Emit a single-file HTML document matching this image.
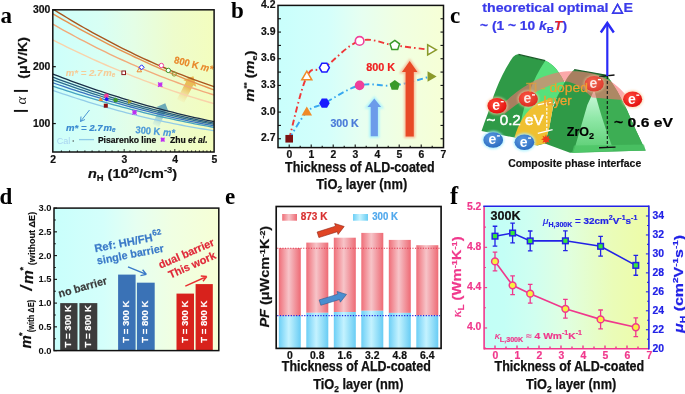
<!DOCTYPE html>
<html><head><meta charset="utf-8"><title>Figure</title>
<style>html,body{margin:0;padding:0;background:#fff;} svg{display:block;will-change:transform;}</style>
</head><body>
<svg width="685" height="394" viewBox="0 0 685 394">
<rect width="685" height="394" fill="#fff"/>
<defs>
<linearGradient id="bg" x1="0" y1="0" x2="1" y2="0">
<stop offset="0" stop-color="#c9fffc"/>
<stop offset="0.3" stop-color="#d4fffb"/>
<stop offset="0.5" stop-color="#e6fff1"/>
<stop offset="0.72" stop-color="#f0ffe2"/>
<stop offset="1" stop-color="#f6ffd6"/>
</linearGradient>
<linearGradient id="bgA" x1="0" y1="0" x2="1" y2="0">
<stop offset="0" stop-color="#cdfffb"/>
<stop offset="0.3" stop-color="#d8fff4"/>
<stop offset="0.5" stop-color="#e4fee6"/>
<stop offset="0.75" stop-color="#eefccc"/>
<stop offset="1" stop-color="#f3fdbe"/>
</linearGradient>
<linearGradient id="bgF" x1="0" y1="0" x2="1" y2="0">
<stop offset="0" stop-color="#c2fff6"/>
<stop offset="0.12" stop-color="#c4fff6"/>
<stop offset="0.3" stop-color="#d0fff0"/>
<stop offset="0.5" stop-color="#e0ffe0"/>
<stop offset="0.78" stop-color="#eafcb8"/>
<stop offset="1" stop-color="#eefca6"/>
</linearGradient>
<linearGradient id="arrO" x1="0" y1="1" x2="1" y2="0">
<stop offset="0" stop-color="#f0c060" stop-opacity="0.2"/>
<stop offset="0.6" stop-color="#e8b050" stop-opacity="0.9"/>
<stop offset="1" stop-color="#e8a850" stop-opacity="0.9"/>
</linearGradient>
<linearGradient id="arrB" x1="0" y1="1" x2="1" y2="0">
<stop offset="0" stop-color="#7ac0d0" stop-opacity="0.2"/>
<stop offset="0.6" stop-color="#5aa0b8" stop-opacity="0.8"/>
<stop offset="1" stop-color="#5aa0b8" stop-opacity="0.9"/>
</linearGradient>
<filter id="glowB" x="-50%" y="-50%" width="200%" height="200%"><feGaussianBlur stdDeviation="1.2"/></filter>
<filter id="blur1" x="-50%" y="-50%" width="200%" height="200%"><feGaussianBlur stdDeviation="0.8"/></filter>
</defs>
<rect x="52.8" y="9.8" width="161.3" height="142.2" fill="url(#bgA)"/>
<clipPath id="clipA"><rect x="52.8" y="9.8" width="161.3" height="142.2"/></clipPath>
<g clip-path="url(#clipA)">
<linearGradient id="gaO" gradientUnits="userSpaceOnUse" x1="180.5" y1="101" x2="193.4" y2="76.2"><stop offset="0" stop-color="#f8d890" stop-opacity="0.15"/><stop offset="0.55" stop-color="#e8b448" stop-opacity="0.855"/><stop offset="1" stop-color="#e8b448" stop-opacity="0.95"/></linearGradient>
<polygon points="184.05,102.85 193.26,85.14 196.27,86.71 193.4,76.2 183.14,79.88 186.16,81.45 176.95,99.15" fill="url(#gaO)"/>
<linearGradient id="gaB" gradientUnits="userSpaceOnUse" x1="155.8" y1="125.5" x2="165.3" y2="103.3"><stop offset="0" stop-color="#a8d8e8" stop-opacity="0.2"/><stop offset="0.55" stop-color="#5a9eb4" stop-opacity="0.81"/><stop offset="1" stop-color="#5a9eb4" stop-opacity="0.9"/></linearGradient>
<polygon points="159.02,126.88 165.84,110.93 168.74,112.17 165.3,103.3 156.51,106.94 159.41,108.17 152.58,124.12" fill="url(#gaB)"/>
<path d="M50,38.56 L54.26,40.72 L58.51,42.87 L62.77,44.98 L67.03,47.07 L71.28,49.14 L75.54,51.18 L79.79,53.19 L84.05,55.18 L88.31,57.14 L92.56,59.08 L96.82,60.99 L101.08,62.88 L105.33,64.74 L109.59,66.58 L113.85,68.39 L118.1,70.17 L122.36,71.93 L126.62,73.66 L130.87,75.37 L135.13,77.05 L139.38,78.71 L143.64,80.34 L147.9,81.95 L152.15,83.53 L156.41,85.08 L160.67,86.61 L164.92,88.11 L169.18,89.59 L173.44,91.05 L177.69,92.47 L181.95,93.87 L186.21,95.25 L190.46,96.6 L194.72,97.93 L198.97,99.22 L203.23,100.5 L207.49,101.75 L211.74,102.97 L216,104.17" fill="none" stroke="#f9d2aa" stroke-width="1.4"/>
<path d="M50,22.54 L54.26,24.98 L58.51,27.39 L62.77,29.78 L67.03,32.13 L71.28,34.45 L75.54,36.75 L79.79,39.01 L84.05,41.24 L88.31,43.44 L92.56,45.62 L96.82,47.76 L101.08,49.87 L105.33,51.96 L109.59,54.01 L113.85,56.03 L118.1,58.03 L122.36,59.99 L126.62,61.92 L130.87,63.83 L135.13,65.7 L139.38,67.54 L143.64,69.35 L147.9,71.14 L152.15,72.89 L156.41,74.61 L160.67,76.31 L164.92,77.97 L169.18,79.6 L173.44,81.2 L177.69,82.78 L181.95,84.32 L186.21,85.83 L190.46,87.32 L194.72,88.77 L198.97,90.19 L203.23,91.58 L207.49,92.95 L211.74,94.28 L216,95.58" fill="none" stroke="#f2aa7a" stroke-width="1.4"/>
<path d="M50,12.1 L54.26,14.61 L58.51,17.08 L62.77,19.53 L67.03,21.96 L71.28,24.36 L75.54,26.73 L79.79,29.08 L84.05,31.4 L88.31,33.7 L92.56,35.97 L96.82,38.21 L101.08,40.43 L105.33,42.62 L109.59,44.79 L113.85,46.93 L118.1,49.05 L122.36,51.14 L126.62,53.2 L130.87,55.24 L135.13,57.25 L139.38,59.24 L143.64,61.2 L147.9,63.13 L152.15,65.04 L156.41,66.93 L160.67,68.78 L164.92,70.61 L169.18,72.42 L173.44,74.2 L177.69,75.95 L181.95,77.68 L186.21,79.38 L190.46,81.06 L194.72,82.71 L198.97,84.34 L203.23,85.94 L207.49,87.51 L211.74,89.06 L216,90.58" fill="none" stroke="#e69250" stroke-width="1.4"/>
<path d="M50,7.27 L54.26,9.94 L58.51,12.58 L62.77,15.19 L67.03,17.76 L71.28,20.3 L75.54,22.81 L79.79,25.29 L84.05,27.74 L88.31,30.15 L92.56,32.53 L96.82,34.88 L101.08,37.19 L105.33,39.47 L109.59,41.72 L113.85,43.94 L118.1,46.12 L122.36,48.27 L126.62,50.39 L130.87,52.48 L135.13,54.53 L139.38,56.55 L143.64,58.54 L147.9,60.5 L152.15,62.42 L156.41,64.31 L160.67,66.17 L164.92,68 L169.18,69.79 L173.44,71.55 L177.69,73.28 L181.95,74.97 L186.21,76.63 L190.46,78.26 L194.72,79.86 L198.97,81.43 L203.23,82.96 L207.49,84.46 L211.74,85.92 L216,87.36" fill="none" stroke="#a9571f" stroke-width="1.4"/>
<path d="M50,89.37 L54.26,90.86 L58.51,92.34 L62.77,93.78 L67.03,95.21 L71.28,96.61 L75.54,98 L79.79,99.36 L84.05,100.69 L88.31,102.01 L92.56,103.3 L96.82,104.57 L101.08,105.81 L105.33,107.04 L109.59,108.24 L113.85,109.42 L118.1,110.58 L122.36,111.71 L126.62,112.83 L130.87,113.91 L135.13,114.98 L139.38,116.03 L143.64,117.05 L147.9,118.05 L152.15,119.03 L156.41,119.98 L160.67,120.92 L164.92,121.83 L169.18,122.71 L173.44,123.58 L177.69,124.42 L181.95,125.24 L186.21,126.04 L190.46,126.82 L194.72,127.57 L198.97,128.3 L203.23,129.01 L207.49,129.69 L211.74,130.36 L216,131" fill="none" stroke="#92cce8" stroke-width="1.3"/>
<path d="M50,85.23 L54.26,86.65 L58.51,88.06 L62.77,89.45 L67.03,90.83 L71.28,92.18 L75.54,93.52 L79.79,94.84 L84.05,96.15 L88.31,97.43 L92.56,98.7 L96.82,99.95 L101.08,101.18 L105.33,102.39 L109.59,103.59 L113.85,104.77 L118.1,105.93 L122.36,107.08 L126.62,108.2 L130.87,109.31 L135.13,110.4 L139.38,111.47 L143.64,112.53 L147.9,113.56 L152.15,114.58 L156.41,115.59 L160.67,116.57 L164.92,117.54 L169.18,118.49 L173.44,119.42 L177.69,120.33 L181.95,121.23 L186.21,122.1 L190.46,122.96 L194.72,123.81 L198.97,124.63 L203.23,125.44 L207.49,126.23 L211.74,127 L216,127.75" fill="none" stroke="#45a2c2" stroke-width="1.3"/>
<path d="M50,81.77 L54.26,83.26 L58.51,84.74 L62.77,86.2 L67.03,87.64 L71.28,89.06 L75.54,90.46 L79.79,91.85 L84.05,93.21 L88.31,94.56 L92.56,95.89 L96.82,97.2 L101.08,98.49 L105.33,99.76 L109.59,101.01 L113.85,102.25 L118.1,103.46 L122.36,104.66 L126.62,105.84 L130.87,107 L135.13,108.14 L139.38,109.26 L143.64,110.36 L147.9,111.45 L152.15,112.51 L156.41,113.56 L160.67,114.59 L164.92,115.6 L169.18,116.59 L173.44,117.57 L177.69,118.52 L181.95,119.45 L186.21,120.37 L190.46,121.27 L194.72,122.15 L198.97,123.01 L203.23,123.85 L207.49,124.68 L211.74,125.48 L216,126.27" fill="none" stroke="#3a72c0" stroke-width="1.3"/>
<path d="M50,78.7 L54.26,80.28 L58.51,81.84 L62.77,83.37 L67.03,84.89 L71.28,86.38 L75.54,87.85 L79.79,89.3 L84.05,90.73 L88.31,92.14 L92.56,93.53 L96.82,94.9 L101.08,96.25 L105.33,97.57 L109.59,98.88 L113.85,100.16 L118.1,101.42 L122.36,102.67 L126.62,103.89 L130.87,105.09 L135.13,106.26 L139.38,107.42 L143.64,108.56 L147.9,109.67 L152.15,110.77 L156.41,111.84 L160.67,112.89 L164.92,113.93 L169.18,114.94 L173.44,115.93 L177.69,116.89 L181.95,117.84 L186.21,118.77 L190.46,119.67 L194.72,120.56 L198.97,121.42 L203.23,122.26 L207.49,123.08 L211.74,123.88 L216,124.66" fill="none" stroke="#2e6e92" stroke-width="1.3"/>
<path d="M50,76.07 L54.26,77.69 L58.51,79.28 L62.77,80.86 L67.03,82.41 L71.28,83.94 L75.54,85.45 L79.79,86.94 L84.05,88.41 L88.31,89.86 L92.56,91.29 L96.82,92.69 L101.08,94.08 L105.33,95.44 L109.59,96.78 L113.85,98.1 L118.1,99.4 L122.36,100.68 L126.62,101.94 L130.87,103.18 L135.13,104.39 L139.38,105.59 L143.64,106.76 L147.9,107.91 L152.15,109.04 L156.41,110.15 L160.67,111.24 L164.92,112.31 L169.18,113.36 L173.44,114.38 L177.69,115.39 L181.95,116.37 L186.21,117.33 L190.46,118.28 L194.72,119.2 L198.97,120.09 L203.23,120.97 L207.49,121.83 L211.74,122.67 L216,123.48" fill="none" stroke="#275a7c" stroke-width="1.3"/>
<path d="M50,72.93 L54.26,74.59 L58.51,76.23 L62.77,77.85 L67.03,79.45 L71.28,81.03 L75.54,82.58 L79.79,84.11 L84.05,85.63 L88.31,87.12 L92.56,88.59 L96.82,90.04 L101.08,91.46 L105.33,92.87 L109.59,94.26 L113.85,95.62 L118.1,96.96 L122.36,98.28 L126.62,99.59 L130.87,100.86 L135.13,102.12 L139.38,103.36 L143.64,104.58 L147.9,105.77 L152.15,106.94 L156.41,108.1 L160.67,109.23 L164.92,110.34 L169.18,111.42 L173.44,112.49 L177.69,113.54 L181.95,114.56 L186.21,115.57 L190.46,116.55 L194.72,117.51 L198.97,118.45 L203.23,119.37 L207.49,120.27 L211.74,121.14 L216,122" fill="none" stroke="#1b2f48" stroke-width="1.3"/>
</g>
<rect x="121.9" y="71" width="3.6" height="3.6" fill="#fff" stroke="#8a1a1a" stroke-width="1"/>
<polygon points="139.3,67.83 141.6,71.81 137,71.81" fill="none" stroke="#f08a30" stroke-width="1"/>
<polygon points="141.6,64.8 144.1,67.3 141.6,69.8 139.1,67.3" fill="#fff" stroke="#1a1aff" stroke-width="1"/>
<circle cx="161.4" cy="65.5" r="2.2" fill="#fff" stroke="#f0409a" stroke-width="1"/>
<circle cx="168.3" cy="70.4" r="2.2" fill="#fff" stroke="#3a9a2a" stroke-width="1"/>
<circle cx="174.2" cy="74" r="2.1" fill="none" stroke="#8a9a3a" stroke-width="1"/>
<path d="M158.04,82.54 L162.36,86.86 M158.04,86.86 L162.36,82.54 M158.1,84.7 L162.3,84.7 M160.2,82.6 L160.2,86.8" stroke="#c030f0" stroke-width="1.2" fill="none"/>
<rect x="158.9" y="83.4" width="2.6" height="2.6" fill="#c030f0"/>
<polygon points="100.7,96.93 103,100.91 98.4,100.91" fill="#f08a30" stroke="none" stroke-width="0"/>
<circle cx="106.4" cy="96" r="2.4" fill="#f0409a" stroke="none" stroke-width="0"/>
<polygon points="106.6,97 108.9,99.3 106.6,101.6 104.3,99.3" fill="#1a1aff" stroke="none" stroke-width="0"/>
<rect x="103.8" y="103.7" width="4" height="4" fill="#8a1010" stroke="none" stroke-width="0"/>
<polygon points="115.6,97.6 118.07,99.4 117.13,102.3 114.07,102.3 113.13,99.4" fill="#3a9a2a" stroke="none" stroke-width="0"/>
<polygon points="132.18,101.7 128.02,99.3 128.02,104.1" fill="#9a9a2a" stroke="none" stroke-width="0"/>
<path d="M132.34,110.24 L136.66,114.56 M132.34,114.56 L136.66,110.24 M132.4,112.4 L136.6,112.4 M134.5,110.3 L134.5,114.5" stroke="#c030f0" stroke-width="1.2" fill="none"/>
<rect x="133.2" y="111.1" width="2.6" height="2.6" fill="#c030f0"/>
<text x="65.8" y="75.8" font-family='"Liberation Sans", sans-serif' font-size="9.8" font-weight="bold" fill="#f6cc98" text-anchor="start" font-style="italic" stroke="#f6cc98" stroke-width="0.1" textLength="49.5" lengthAdjust="spacingAndGlyphs">m* = 2.7<tspan dx="1">m</tspan><tspan font-size="6.5" dy="1.5">e</tspan></text>
<text x="66" y="130.6" font-family='"Liberation Sans", sans-serif' font-size="9.8" font-weight="bold" fill="#3a8ad0" text-anchor="start" font-style="italic" stroke="#3a8ad0" stroke-width="0.2" textLength="49.5" lengthAdjust="spacingAndGlyphs">m* = 2.7<tspan dx="1">m</tspan><tspan font-size="6.5" dy="1.5">e</tspan></text>
<path d="M89.5,110 L80.5,121.5 M80.5,121.5 L81,116.5 M80.5,121.5 L85,119.5" stroke="#3a8ad0" stroke-width="0.9" fill="none"/>
<text x="0" y="0" font-family='"Liberation Sans", sans-serif' font-size="10" font-weight="bold" fill="#e8882a" text-anchor="start" stroke="#e8882a" stroke-width="0.2" transform="translate(173.6,63) rotate(14)" textLength="39.5" lengthAdjust="spacingAndGlyphs">800 K <tspan font-style="italic">m*</tspan></text>
<text x="0" y="0" font-family='"Liberation Sans", sans-serif' font-size="10" font-weight="bold" fill="#4a98d8" text-anchor="start" stroke="#4a98d8" stroke-width="0.2" transform="translate(135.2,133) rotate(5)" textLength="39.5" lengthAdjust="spacingAndGlyphs">300 K <tspan font-style="italic">m*</tspan></text>
<text x="56.7" y="143.7" font-family='"Liberation Sans", sans-serif' font-size="9" font-weight="normal" fill="#a8d4f0" text-anchor="start" >Cal</text>
<line x1="73.2" y1="140" x2="73.2" y2="142" stroke="#333" stroke-width="0.7"/>
<line x1="79" y1="139.6" x2="94" y2="139.6" stroke="#8ecbe8" stroke-width="1.3"/>
<text x="97.9" y="143.3" font-family='"Liberation Sans", sans-serif' font-size="8.6" font-weight="bold" fill="#111" text-anchor="start" stroke="#111" stroke-width="0.2" >Pisarenko line</text>
<path d="M160.83,137.73 L164.57,141.47 M160.83,141.47 L164.57,137.73 M160.88,139.6 L164.52,139.6 M162.7,137.78 L162.7,141.42" stroke="#c030f0" stroke-width="1.2" fill="none"/>
<rect x="161.4" y="138.3" width="2.6" height="2.6" fill="#c030f0"/>
<text x="169.9" y="143.3" font-family='"Liberation Sans", sans-serif' font-size="8.6" font-weight="bold" fill="#111" text-anchor="start" stroke="#111" stroke-width="0.2" >Zhu <tspan font-style="italic">et al.</tspan></text>
<rect x="52.8" y="9.8" width="161.3" height="142.2" fill="none" stroke="#111" stroke-width="1.5"/>
<line x1="52.8" y1="123.56" x2="55.8" y2="123.56" stroke="#111" stroke-width="1.2"/>
<text x="50.3" y="126.56" font-family='"Liberation Sans", sans-serif' font-size="10.4" font-weight="bold" fill="#111" text-anchor="end" stroke="#111" stroke-width="0.2" >100</text>
<line x1="52.8" y1="66.68" x2="55.8" y2="66.68" stroke="#111" stroke-width="1.2"/>
<text x="50.3" y="69.68" font-family='"Liberation Sans", sans-serif' font-size="10.4" font-weight="bold" fill="#111" text-anchor="end" stroke="#111" stroke-width="0.2" >200</text>
<line x1="52.8" y1="9.8" x2="55.8" y2="9.8" stroke="#111" stroke-width="1.2"/>
<text x="50.3" y="12.8" font-family='"Liberation Sans", sans-serif' font-size="10.4" font-weight="bold" fill="#111" text-anchor="end" stroke="#111" stroke-width="0.2" >300</text>
<line x1="61.39" y1="152.0" x2="61.39" y2="150.4" stroke="#111" stroke-width="0.9"/>
<line x1="69.58" y1="152.0" x2="69.58" y2="150.4" stroke="#111" stroke-width="0.9"/>
<line x1="77.4" y1="152.0" x2="77.4" y2="150.4" stroke="#111" stroke-width="0.9"/>
<line x1="84.9" y1="152.0" x2="84.9" y2="150.4" stroke="#111" stroke-width="0.9"/>
<line x1="92.08" y1="152.0" x2="92.08" y2="150.4" stroke="#111" stroke-width="0.9"/>
<line x1="98.99" y1="152.0" x2="98.99" y2="150.4" stroke="#111" stroke-width="0.9"/>
<line x1="105.63" y1="152.0" x2="105.63" y2="150.4" stroke="#111" stroke-width="0.9"/>
<line x1="112.03" y1="152.0" x2="112.03" y2="150.4" stroke="#111" stroke-width="0.9"/>
<line x1="118.21" y1="152.0" x2="118.21" y2="150.4" stroke="#111" stroke-width="0.9"/>
<line x1="124.18" y1="152.0" x2="124.18" y2="149.0" stroke="#111" stroke-width="0.9"/>
<line x1="129.95" y1="152.0" x2="129.95" y2="150.4" stroke="#111" stroke-width="0.9"/>
<line x1="135.54" y1="152.0" x2="135.54" y2="150.4" stroke="#111" stroke-width="0.9"/>
<line x1="140.95" y1="152.0" x2="140.95" y2="150.4" stroke="#111" stroke-width="0.9"/>
<line x1="146.21" y1="152.0" x2="146.21" y2="150.4" stroke="#111" stroke-width="0.9"/>
<line x1="151.31" y1="152.0" x2="151.31" y2="150.4" stroke="#111" stroke-width="0.9"/>
<line x1="156.27" y1="152.0" x2="156.27" y2="150.4" stroke="#111" stroke-width="0.9"/>
<line x1="161.09" y1="152.0" x2="161.09" y2="150.4" stroke="#111" stroke-width="0.9"/>
<line x1="165.79" y1="152.0" x2="165.79" y2="150.4" stroke="#111" stroke-width="0.9"/>
<line x1="170.36" y1="152.0" x2="170.36" y2="150.4" stroke="#111" stroke-width="0.9"/>
<line x1="174.82" y1="152.0" x2="174.82" y2="149.0" stroke="#111" stroke-width="0.9"/>
<line x1="179.17" y1="152.0" x2="179.17" y2="150.4" stroke="#111" stroke-width="0.9"/>
<line x1="183.41" y1="152.0" x2="183.41" y2="150.4" stroke="#111" stroke-width="0.9"/>
<line x1="187.55" y1="152.0" x2="187.55" y2="150.4" stroke="#111" stroke-width="0.9"/>
<line x1="191.6" y1="152.0" x2="191.6" y2="150.4" stroke="#111" stroke-width="0.9"/>
<line x1="195.55" y1="152.0" x2="195.55" y2="150.4" stroke="#111" stroke-width="0.9"/>
<line x1="199.42" y1="152.0" x2="199.42" y2="150.4" stroke="#111" stroke-width="0.9"/>
<line x1="203.21" y1="152.0" x2="203.21" y2="150.4" stroke="#111" stroke-width="0.9"/>
<line x1="206.91" y1="152.0" x2="206.91" y2="150.4" stroke="#111" stroke-width="0.9"/>
<line x1="210.54" y1="152.0" x2="210.54" y2="150.4" stroke="#111" stroke-width="0.9"/>
<text x="53.1" y="162.6" font-family='"Liberation Sans", sans-serif' font-size="10.4" font-weight="bold" fill="#111" text-anchor="middle" stroke="#111" stroke-width="0.2" >2</text>
<text x="124.48" y="162.6" font-family='"Liberation Sans", sans-serif' font-size="10.4" font-weight="bold" fill="#111" text-anchor="middle" stroke="#111" stroke-width="0.2" >3</text>
<text x="175.12" y="162.6" font-family='"Liberation Sans", sans-serif' font-size="10.4" font-weight="bold" fill="#111" text-anchor="middle" stroke="#111" stroke-width="0.2" >4</text>
<text x="214.4" y="162.6" font-family='"Liberation Sans", sans-serif' font-size="10.4" font-weight="bold" fill="#111" text-anchor="middle" stroke="#111" stroke-width="0.2" >5</text>
<text x="87.9" y="178.4" font-family='"Liberation Sans", sans-serif' font-size="13" font-weight="bold" fill="#111" text-anchor="start" stroke="#111" stroke-width="0.2" textLength="89.3" lengthAdjust="spacingAndGlyphs"><tspan font-style="italic">n</tspan><tspan font-size="8.5" dy="3">H</tspan><tspan dy="-3">  (10</tspan><tspan font-size="8.5" dy="-5">20</tspan><tspan dy="5">/cm</tspan><tspan font-size="8.5" dy="-5">-3</tspan><tspan dy="5">)</tspan></text>
<text x="0" y="0" font-family='"Liberation Sans", sans-serif' font-size="12.6" font-weight="bold" fill="#111" text-anchor="start" stroke="#111" stroke-width="0.2" transform="translate(26.6,78.7) rotate(-90)" textLength="41.8" lengthAdjust="spacingAndGlyphs">(μV/K)</text>
<line x1="13.9" y1="110.9" x2="27.9" y2="110.9" stroke="#111" stroke-width="1.9"/>
<line x1="13.9" y1="90.9" x2="27.9" y2="90.9" stroke="#111" stroke-width="1.9"/>
<text x="0" y="0" font-family='"Liberation Serif", serif' font-size="15" font-weight="normal" fill="#111" text-anchor="start" font-style="italic" transform="translate(25.8,104.6) rotate(-90)">α</text>
<text x="0.4" y="23" font-family='"Liberation Serif", serif' font-size="23" font-weight="bold" fill="#000" text-anchor="start" >a</text>
<rect x="278.0" y="5.4" width="165.5" height="142.2" fill="url(#bg)"/>
<path d="M289.2,138.75 C292.37,127.55 300.46,89.32 306.8,76.52 C313.14,63.72 314.9,74.03 324.4,67.63 C333.9,61.23 346.93,44.96 359.6,40.96 C372.27,36.96 382.13,43.8 394.8,45.41 C407.47,47.01 423.66,49.05 430,49.85" fill="none" stroke="#f03838" stroke-width="1.9" stroke-dasharray="6,3,1.6,3"/>
<path d="M289.2,138.75 C292.37,133.95 300.46,118.48 306.8,112.08 C313.14,105.68 314.9,107.99 324.4,103.19 C333.9,98.39 346.93,88.61 359.6,85.41 C372.27,82.21 382.13,87.01 394.8,85.41 C407.47,83.81 423.66,78.12 430,76.52" fill="none" stroke="#38a8f0" stroke-width="1.9" stroke-dasharray="6,3,1.6,3"/>
<path d="M370.7,136.3 L370.7,107 L367.5,107 L374.3,98.5 L381.1,107 L377.9,107 L377.9,136.3 Z" fill="#a0f0ff" stroke="#a0f0ff" stroke-width="3" filter="url(#glowB)" opacity="0.8"/>
<path d="M370.7,136.3 L370.7,107 L367.5,107 L374.3,98.5 L381.1,107 L377.9,107 L377.9,136.3 Z" fill="#6c9cea"/>
<path d="M405.6,136.6 L405.6,72 L401.95,72 L409.7,61 L417.45,72 L413.8,72 L413.8,136.6 Z" fill="#f8b090" stroke="#f8b090" stroke-width="3" filter="url(#glowB)" opacity="0.8"/>
<path d="M405.6,136.6 L405.6,72 L401.95,72 L409.7,61 L417.45,72 L413.8,72 L413.8,136.6 Z" fill="#e84a26"/>
<rect x="285.4" y="134.95" width="7.6" height="7.6" fill="#7a1212" stroke="none" stroke-width="0"/>
<polygon points="306.8,71.15 311.8,79.81 301.8,79.81" fill="#fff" stroke="#f08a28" stroke-width="1.5"/>
<polygon points="329.4,67.63 326.9,71.96 321.9,71.96 319.4,67.63 321.9,63.3 326.9,63.3" fill="#fff" stroke="#1a1aff" stroke-width="1.5"/>
<circle cx="359.6" cy="40.96" r="4.3" fill="#fff" stroke="#f0409a" stroke-width="1.6"/>
<polygon points="394.8,40.41 399.56,43.86 397.74,49.45 391.86,49.45 390.04,43.86" fill="#fff" stroke="#3a9a2a" stroke-width="1.5"/>
<polygon points="436.37,49.85 427.71,44.85 427.71,54.85" fill="#fff" stroke="#8a9a2a" stroke-width="1.6"/>
<polygon points="306.8,106.44 312.05,115.54 301.55,115.54" fill="#f08a28" stroke="none" stroke-width="0"/>
<polygon points="329.7,103.19 327.05,107.78 321.75,107.78 319.1,103.19 321.75,98.6 327.05,98.6" fill="#1a1aff" stroke="none" stroke-width="0"/>
<circle cx="359.6" cy="85.41" r="4.8" fill="#f0409a" stroke="none" stroke-width="0"/>
<polygon points="394.8,80.01 399.94,83.74 397.97,89.78 391.63,89.78 389.66,83.74" fill="#3a9a2a" stroke="none" stroke-width="0"/>
<polygon points="436.64,76.52 427.54,71.27 427.54,81.77" fill="#8a9a2a" stroke="none" stroke-width="0"/>
<text x="366.3" y="70.9" font-family='"Liberation Sans", sans-serif' font-size="11.2" font-weight="bold" fill="#f02020" text-anchor="start" stroke="#f02020" stroke-width="0.2" textLength="28.9" lengthAdjust="spacingAndGlyphs">800 K</text>
<text x="330.4" y="127.2" font-family='"Liberation Sans", sans-serif' font-size="11.2" font-weight="bold" fill="#4a7ad8" text-anchor="start" stroke="#4a7ad8" stroke-width="0.2" textLength="28.4" lengthAdjust="spacingAndGlyphs">300 K</text>
<rect x="278.0" y="5.4" width="165.5" height="142.2" fill="none" stroke="#111" stroke-width="1.5"/>
<line x1="278.0" y1="138.75" x2="281.0" y2="138.75" stroke="#111" stroke-width="1.1"/>
<line x1="443.5" y1="138.75" x2="440.5" y2="138.75" stroke="#111" stroke-width="1.1"/>
<line x1="278.0" y1="125.42" x2="281.0" y2="125.42" stroke="#111" stroke-width="1.1"/>
<line x1="443.5" y1="125.42" x2="440.5" y2="125.42" stroke="#111" stroke-width="1.1"/>
<line x1="278.0" y1="112.08" x2="281.0" y2="112.08" stroke="#111" stroke-width="1.1"/>
<line x1="443.5" y1="112.08" x2="440.5" y2="112.08" stroke="#111" stroke-width="1.1"/>
<line x1="278.0" y1="98.74" x2="281.0" y2="98.74" stroke="#111" stroke-width="1.1"/>
<line x1="443.5" y1="98.74" x2="440.5" y2="98.74" stroke="#111" stroke-width="1.1"/>
<line x1="278.0" y1="85.41" x2="281.0" y2="85.41" stroke="#111" stroke-width="1.1"/>
<line x1="443.5" y1="85.41" x2="440.5" y2="85.41" stroke="#111" stroke-width="1.1"/>
<line x1="278.0" y1="72.08" x2="281.0" y2="72.08" stroke="#111" stroke-width="1.1"/>
<line x1="443.5" y1="72.08" x2="440.5" y2="72.08" stroke="#111" stroke-width="1.1"/>
<line x1="278.0" y1="58.74" x2="281.0" y2="58.74" stroke="#111" stroke-width="1.1"/>
<line x1="443.5" y1="58.74" x2="440.5" y2="58.74" stroke="#111" stroke-width="1.1"/>
<line x1="278.0" y1="45.41" x2="281.0" y2="45.41" stroke="#111" stroke-width="1.1"/>
<line x1="443.5" y1="45.41" x2="440.5" y2="45.41" stroke="#111" stroke-width="1.1"/>
<line x1="278.0" y1="32.07" x2="281.0" y2="32.07" stroke="#111" stroke-width="1.1"/>
<line x1="443.5" y1="32.07" x2="440.5" y2="32.07" stroke="#111" stroke-width="1.1"/>
<line x1="278.0" y1="18.74" x2="281.0" y2="18.74" stroke="#111" stroke-width="1.1"/>
<line x1="443.5" y1="18.74" x2="440.5" y2="18.74" stroke="#111" stroke-width="1.1"/>
<text x="275.5" y="141.25" font-family='"Liberation Sans", sans-serif' font-size="10.4" font-weight="bold" fill="#111" text-anchor="end" stroke="#111" stroke-width="0.2" >2.7</text>
<text x="275.5" y="114.58" font-family='"Liberation Sans", sans-serif' font-size="10.4" font-weight="bold" fill="#111" text-anchor="end" stroke="#111" stroke-width="0.2" >3.0</text>
<text x="275.5" y="87.91" font-family='"Liberation Sans", sans-serif' font-size="10.4" font-weight="bold" fill="#111" text-anchor="end" stroke="#111" stroke-width="0.2" >3.3</text>
<text x="275.5" y="61.24" font-family='"Liberation Sans", sans-serif' font-size="10.4" font-weight="bold" fill="#111" text-anchor="end" stroke="#111" stroke-width="0.2" >3.6</text>
<text x="275.5" y="34.57" font-family='"Liberation Sans", sans-serif' font-size="10.4" font-weight="bold" fill="#111" text-anchor="end" stroke="#111" stroke-width="0.2" >3.9</text>
<text x="275.5" y="7.9" font-family='"Liberation Sans", sans-serif' font-size="10.4" font-weight="bold" fill="#111" text-anchor="end" stroke="#111" stroke-width="0.2" >4.2</text>
<line x1="289.2" y1="147.6" x2="289.2" y2="144.6" stroke="#111" stroke-width="1.1"/>
<line x1="300.2" y1="147.6" x2="300.2" y2="145.79999999999998" stroke="#111" stroke-width="1.1"/>
<line x1="311.2" y1="147.6" x2="311.2" y2="144.6" stroke="#111" stroke-width="1.1"/>
<line x1="322.2" y1="147.6" x2="322.2" y2="145.79999999999998" stroke="#111" stroke-width="1.1"/>
<line x1="333.2" y1="147.6" x2="333.2" y2="144.6" stroke="#111" stroke-width="1.1"/>
<line x1="344.2" y1="147.6" x2="344.2" y2="145.79999999999998" stroke="#111" stroke-width="1.1"/>
<line x1="355.2" y1="147.6" x2="355.2" y2="144.6" stroke="#111" stroke-width="1.1"/>
<line x1="366.2" y1="147.6" x2="366.2" y2="145.79999999999998" stroke="#111" stroke-width="1.1"/>
<line x1="377.2" y1="147.6" x2="377.2" y2="144.6" stroke="#111" stroke-width="1.1"/>
<line x1="388.2" y1="147.6" x2="388.2" y2="145.79999999999998" stroke="#111" stroke-width="1.1"/>
<line x1="399.2" y1="147.6" x2="399.2" y2="144.6" stroke="#111" stroke-width="1.1"/>
<line x1="410.2" y1="147.6" x2="410.2" y2="145.79999999999998" stroke="#111" stroke-width="1.1"/>
<line x1="421.2" y1="147.6" x2="421.2" y2="144.6" stroke="#111" stroke-width="1.1"/>
<line x1="432.2" y1="147.6" x2="432.2" y2="145.79999999999998" stroke="#111" stroke-width="1.1"/>
<text x="289.4" y="157.7" font-family='"Liberation Sans", sans-serif' font-size="10.4" font-weight="bold" fill="#111" text-anchor="middle" stroke="#111" stroke-width="0.2" >0</text>
<text x="311.4" y="157.7" font-family='"Liberation Sans", sans-serif' font-size="10.4" font-weight="bold" fill="#111" text-anchor="middle" stroke="#111" stroke-width="0.2" >1</text>
<text x="333.4" y="157.7" font-family='"Liberation Sans", sans-serif' font-size="10.4" font-weight="bold" fill="#111" text-anchor="middle" stroke="#111" stroke-width="0.2" >2</text>
<text x="355.4" y="157.7" font-family='"Liberation Sans", sans-serif' font-size="10.4" font-weight="bold" fill="#111" text-anchor="middle" stroke="#111" stroke-width="0.2" >3</text>
<text x="377.4" y="157.7" font-family='"Liberation Sans", sans-serif' font-size="10.4" font-weight="bold" fill="#111" text-anchor="middle" stroke="#111" stroke-width="0.2" >4</text>
<text x="399.4" y="157.7" font-family='"Liberation Sans", sans-serif' font-size="10.4" font-weight="bold" fill="#111" text-anchor="middle" stroke="#111" stroke-width="0.2" >5</text>
<text x="421.4" y="157.7" font-family='"Liberation Sans", sans-serif' font-size="10.4" font-weight="bold" fill="#111" text-anchor="middle" stroke="#111" stroke-width="0.2" >6</text>
<text x="443.4" y="157.7" font-family='"Liberation Sans", sans-serif' font-size="10.4" font-weight="bold" fill="#111" text-anchor="middle" stroke="#111" stroke-width="0.2" >7</text>
<text x="285.1" y="171.6" font-family='"Liberation Sans", sans-serif' font-size="13.8" font-weight="bold" fill="#111" text-anchor="start" textLength="149.5" lengthAdjust="spacingAndGlyphs" stroke="#111" stroke-width="0.25">Thickness of ALD-coated</text>
<text x="316.2" y="189.1" font-family='"Liberation Sans", sans-serif' font-size="13.8" font-weight="bold" fill="#111" text-anchor="start" textLength="91" lengthAdjust="spacingAndGlyphs" stroke="#111" stroke-width="0.25">TiO<tspan font-size="9" dy="3">2</tspan><tspan dy="-3"> layer (nm)</tspan></text>
<text x="0" y="0" font-family='"Liberation Sans", sans-serif' font-size="13" font-weight="bold" fill="#111" text-anchor="start" stroke="#111" stroke-width="0.2" transform="translate(253.8,101.5) rotate(-90)" textLength="51" lengthAdjust="spacingAndGlyphs"><tspan font-style="italic">m</tspan><tspan font-size="7" dy="-4.5">**</tspan><tspan dy="4.5"> (</tspan><tspan font-style="italic">m</tspan><tspan font-size="8" dy="3">e</tspan><tspan dy="-3">)</tspan></text>
<text x="231" y="18.1" font-family='"Liberation Serif", serif' font-size="23" font-weight="bold" fill="#000" text-anchor="start" >b</text>
<defs>
<radialGradient id="eR" cx="0.4" cy="0.35" r="0.7"><stop offset="0" stop-color="#ff4a3a"/><stop offset="1" stop-color="#e20c0c"/></radialGradient>
<radialGradient id="eB" cx="0.4" cy="0.35" r="0.7"><stop offset="0" stop-color="#5a9ae0"/><stop offset="1" stop-color="#2a6ac0"/></radialGradient>
<linearGradient id="hl" x1="0" y1="0" x2="0" y2="1"><stop offset="0" stop-color="#d0fae0"/><stop offset="0.45" stop-color="#90e8a8"/><stop offset="1" stop-color="#58cc70"/></linearGradient>
</defs>
<path d="M481.5,131 C484,124 486,118 488,113 C492,100 500,75 513,57 Q516,54 518.4,54.4 L545.2,60.7 C553,63.5 560,72 565.8,85 L557,97 L553,104 L544.9,143.6 L537.4,145.5 L514.5,137.6 Z" fill="#2f9a47"/>
<path d="M545.2,60.7 C553,63.5 560,72 565.8,85 L557,97 L553,104 L540,112 L521,122 C524,105 532,80 545.2,60.7 Z" fill="#57e07b"/>
<path d="M574.2,69.8 L606.8,75.3 C614,85 621,97 627,110 C633,124 640,139 645.6,150.6 L570,152.8 L544.9,143.6 L549.3,127.6 L552.8,108 L557,97 L562.7,86.5 C566,79 570,73 574.2,69.8 Z" fill="#2f9a47"/>
<path d="M606.8,75.3 C614,85 621,97 627,110 C633,124 640,139 645.6,150.6 L606,150 L594.2,90.1 C598,84 603,79 606.8,75.3 Z" fill="#3dae54"/>
<path d="M594.2,90.1 C598,105 604,125 612,146 L613,150.5 L573.4,152.4 L587.3,105 Z" fill="url(#hl)"/>
<path d="M574,145.5 L644,144.5 L645.6,150.6 L572,153 Z" fill="#4cc466" opacity="0.75"/>
<path d="M514.5,137.6 C518,124 526,110 538,103 C543,100.5 547,99.5 551,99.2 L552.8,108 L549.3,127.6 L544.9,143.6 L536,145.4 Z" fill="#f0c030"/>
<path d="M518.4,54.4 L545.2,60.7" stroke="#1c5c2a" stroke-width="1.3"/>
<path d="M574.2,69.6 L606.8,75.3" stroke="#1c5c2a" stroke-width="1.3"/>
<path d="M500,106.5 C515,92 538,74 565,71.5 C590,70 610,76 626,95 L622.5,100 L592,97.5 C582,88 574,81.5 564.8,81.5 C545,84 525,98 504,114 Z" fill="#f86e70" fill-opacity="0.6"/>
<line x1="607.3" y1="76" x2="607.3" y2="148" stroke="#111" stroke-width="1.1" stroke-dasharray="3,2"/>
<line x1="599" y1="76.6" x2="614.5" y2="75" stroke="#111" stroke-width="1.4"/>
<line x1="599" y1="147.8" x2="615.5" y2="147.1" stroke="#111" stroke-width="1.4"/>
<line x1="607.3" y1="24" x2="607.3" y2="76" stroke="#2a2af6" stroke-width="2.2"/>
<path d="M600.8,32.5 L607.3,23 L613.8,32.5" fill="none" stroke="#2a2af6" stroke-width="2.4" stroke-linejoin="miter"/>
<line x1="546.8" y1="104" x2="546.8" y2="131" stroke="#fff" stroke-width="1.2" stroke-dasharray="2.5,1.5"/>
<line x1="537.8" y1="104.9" x2="552" y2="102" stroke="#fff" stroke-width="1.2"/>
<line x1="537.8" y1="133.3" x2="552.6" y2="129.7" stroke="#fff" stroke-width="1.2"/>
<polygon points="551,139.3 548.4,140.29 549.54,142.84 546.99,141.7 546,144.3 545.01,141.7 542.46,142.84 543.6,140.29 541,139.3 543.6,138.31 542.46,135.76 545.01,136.9 546,134.3 546.99,136.9 549.54,135.76 548.4,138.31" fill="#f03a1a" stroke="none" stroke-width="0"/>
<ellipse cx="497" cy="105.8" rx="10.8" ry="9" fill="#f8d0a0" opacity="0.7" filter="url(#blur1)"/>
<ellipse cx="497" cy="105.8" rx="9.6" ry="7.8" fill="url(#eR)" opacity="1.0"/>
<text x="496.2" y="110.2" font-family='"Liberation Sans", sans-serif' font-size="14" font-weight="bold" fill="#fff" text-anchor="middle" opacity="1.0">e</text>
<rect x="500.7" y="101.0" width="3" height="1.4" fill="#fff"/>
<ellipse cx="528.3" cy="99" rx="10.8" ry="9" fill="#f8d0a0" opacity="0.602" filter="url(#blur1)"/>
<ellipse cx="528.3" cy="99" rx="9.6" ry="7.8" fill="url(#eR)" opacity="0.86"/>
<text x="527.5" y="103.4" font-family='"Liberation Sans", sans-serif' font-size="14" font-weight="bold" fill="#fff" text-anchor="middle" opacity="0.86">e</text>
<rect x="532.0" y="94.2" width="3" height="1.4" fill="#fff"/>
<ellipse cx="594.2" cy="83.7" rx="10.8" ry="9" fill="#f8d0a0" opacity="0.504" filter="url(#blur1)"/>
<ellipse cx="594.2" cy="83.7" rx="9.6" ry="7.8" fill="url(#eR)" opacity="0.72"/>
<text x="593.4000000000001" y="88.10000000000001" font-family='"Liberation Sans", sans-serif' font-size="14" font-weight="bold" fill="#fff" text-anchor="middle" opacity="0.85">e</text>
<rect x="597.9000000000001" y="78.9" width="3" height="1.4" fill="#fff"/>
<ellipse cx="632.6" cy="99.3" rx="10.8" ry="9" fill="#f8d0a0" opacity="0.7" filter="url(#blur1)"/>
<ellipse cx="632.6" cy="99.3" rx="9.6" ry="7.8" fill="url(#eR)" opacity="1.0"/>
<text x="631.8000000000001" y="103.7" font-family='"Liberation Sans", sans-serif' font-size="14" font-weight="bold" fill="#fff" text-anchor="middle" opacity="1.0">e</text>
<rect x="636.3000000000001" y="94.5" width="3" height="1.4" fill="#fff"/>
<ellipse cx="493.2" cy="140" rx="11" ry="9.2" fill="#a8f0ff" opacity="0.8" filter="url(#blur1)"/>
<ellipse cx="493.2" cy="140" rx="9.9" ry="7.7" fill="url(#eB)"/>
<text x="492.4" y="144.4" font-family='"Liberation Sans", sans-serif' font-size="14" font-weight="bold" fill="#fff" text-anchor="middle" opacity="1.0">e</text>
<rect x="496.9" y="135.2" width="3" height="1.4" fill="#fff"/>
<ellipse cx="524.4" cy="142.2" rx="11" ry="9.2" fill="#a8f0ff" opacity="0.8" filter="url(#blur1)"/>
<ellipse cx="524.4" cy="142.2" rx="9.9" ry="7.7" fill="url(#eB)"/>
<text x="523.6" y="146.6" font-family='"Liberation Sans", sans-serif' font-size="14" font-weight="bold" fill="#fff" text-anchor="middle" opacity="1.0">e</text>
<rect x="528.1" y="137.39999999999998" width="3" height="1.4" fill="#fff"/>
<text x="526" y="91.5" font-family='"Liberation Sans", sans-serif' font-size="13" font-weight="normal" fill="#f0a030" text-anchor="start" textLength="62" lengthAdjust="spacingAndGlyphs" stroke="#f0a030" stroke-width="0.35" stroke-opacity="0.6"><tspan fill-opacity="0.55">Ti - </tspan>doped</text>
<text x="543.6" y="104.8" font-family='"Liberation Sans", sans-serif' font-size="13" font-weight="normal" fill="#f0a030" text-anchor="start" textLength="28" lengthAdjust="spacingAndGlyphs" stroke="#f0a030" stroke-width="0.35">layer</text>
<text x="486.6" y="124.5" font-family='"Liberation Sans", sans-serif' font-size="14.5" font-weight="normal" fill="#fff" text-anchor="start" textLength="57" lengthAdjust="spacingAndGlyphs" stroke="#fff" stroke-width="0.5">~ 0.2 eV</text>
<text x="566.8" y="136" font-family='"Liberation Sans", sans-serif' font-size="12.5" font-weight="bold" fill="#000" text-anchor="start" stroke="#000" stroke-width="0.2" >ZrO<tspan font-size="9" dy="3">2</tspan></text>
<text x="614" y="126.8" font-family='"Liberation Sans", sans-serif' font-size="13.5" font-weight="bold" fill="#000" text-anchor="start" stroke="#000" stroke-width="0.2" textLength="59" lengthAdjust="spacingAndGlyphs">~ 0.6 eV</text>
<text x="508.2" y="166.9" font-family='"Liberation Sans", sans-serif' font-size="10.8" font-weight="bold" fill="#111" text-anchor="start" stroke="#111" stroke-width="0.2" textLength="133" lengthAdjust="spacingAndGlyphs">Composite phase interface</text>
<text x="482.3" y="12.1" font-family='"Liberation Sans", sans-serif' font-size="12.8" font-weight="bold" fill="#3a3aea" text-anchor="start" stroke="#3a3aea" stroke-width="0.2" textLength="150.7" lengthAdjust="spacingAndGlyphs">theoretical optimal △E</text>
<text x="480" y="30.4" font-family='"Liberation Sans", sans-serif' font-size="12.3" font-weight="bold" fill="#3a3aea" text-anchor="start" stroke="#3a3aea" stroke-width="0.2" textLength="87" lengthAdjust="spacingAndGlyphs">~ (1 ~ 10 <tspan font-style="italic">k</tspan><tspan font-size="9" dy="2.5">B</tspan><tspan dy="-2.5" font-style="italic" fill="#f02020">T</tspan>)</text>
<text x="449.9" y="22.9" font-family='"Liberation Serif", serif' font-size="23" font-weight="bold" fill="#000" text-anchor="start" >c</text>
<rect x="54.0" y="208.1" width="164.8" height="142.50000000000003" fill="url(#bg)"/>
<rect x="60.2" y="303.1" width="17.3" height="47.5" fill="#3c3c3c"/>
<text x="0" y="0" font-family='"Liberation Sans", sans-serif' font-size="9.8" font-weight="bold" fill="#fff" text-anchor="start" stroke="#fff" stroke-width="0.2" transform="translate(71.45,347.4) rotate(-90)" textLength="42.2" lengthAdjust="spacingAndGlyphs">T = 300 K</text>
<rect x="79.4" y="303.1" width="17.9" height="47.5" fill="#3c3c3c"/>
<text x="0" y="0" font-family='"Liberation Sans", sans-serif' font-size="9.8" font-weight="bold" fill="#fff" text-anchor="start" stroke="#fff" stroke-width="0.2" transform="translate(90.95,347.4) rotate(-90)" textLength="42.2" lengthAdjust="spacingAndGlyphs">T = 800 K</text>
<rect x="118.1" y="274.6" width="17.5" height="76" fill="#3a72b6"/>
<text x="0" y="0" font-family='"Liberation Sans", sans-serif' font-size="9.8" font-weight="bold" fill="#fff" text-anchor="start" stroke="#fff" stroke-width="0.2" transform="translate(129.45,342.8) rotate(-90)" textLength="42.2" lengthAdjust="spacingAndGlyphs">T = 300 K</text>
<rect x="136.9" y="282.68" width="17.8" height="67.93" fill="#3a72b6"/>
<text x="0" y="0" font-family='"Liberation Sans", sans-serif' font-size="9.8" font-weight="bold" fill="#fff" text-anchor="start" stroke="#fff" stroke-width="0.2" transform="translate(148.4,342.8) rotate(-90)" textLength="42.2" lengthAdjust="spacingAndGlyphs">T = 800 K</text>
<rect x="176.5" y="293.6" width="17.5" height="57" fill="#d8221c"/>
<text x="0" y="0" font-family='"Liberation Sans", sans-serif' font-size="9.8" font-weight="bold" fill="#fff" text-anchor="start" stroke="#fff" stroke-width="0.2" transform="translate(187.85,342.8) rotate(-90)" textLength="42.2" lengthAdjust="spacingAndGlyphs">T = 300 K</text>
<rect x="195.6" y="284.1" width="17.2" height="66.5" fill="#d8221c"/>
<text x="0" y="0" font-family='"Liberation Sans", sans-serif' font-size="9.8" font-weight="bold" fill="#fff" text-anchor="start" stroke="#fff" stroke-width="0.2" transform="translate(206.8,342.8) rotate(-90)" textLength="42.2" lengthAdjust="spacingAndGlyphs">T = 800 K</text>
<text x="0" y="0" font-family='"Liberation Sans", sans-serif' font-size="11" font-weight="bold" fill="#3a3a3a" text-anchor="start" stroke="#3a3a3a" stroke-width="0.2" transform="translate(59.6,297.6) rotate(-16)" textLength="50" lengthAdjust="spacingAndGlyphs">no barrier</text>
<text x="0" y="0" font-family='"Liberation Sans", sans-serif' font-size="11" font-weight="bold" fill="#3a7ac8" text-anchor="start" stroke="#3a7ac8" stroke-width="0.2" transform="translate(95.2,252.2) rotate(-11)" textLength="59" lengthAdjust="spacingAndGlyphs">Ref: HH/FH</text>
<text x="0" y="0" font-family='"Liberation Sans", sans-serif' font-size="8" font-weight="bold" fill="#3a7ac8" text-anchor="start" stroke="#3a7ac8" stroke-width="0.2" transform="translate(152.8,235.8) rotate(-11)">62</text>
<text x="0" y="0" font-family='"Liberation Sans", sans-serif' font-size="11" font-weight="bold" fill="#3a7ac8" text-anchor="start" stroke="#3a7ac8" stroke-width="0.2" transform="translate(97.6,264.6) rotate(-11)" textLength="68" lengthAdjust="spacingAndGlyphs">single barrier</text>
<text x="0" y="0" font-family='"Liberation Sans", sans-serif' font-size="11" font-weight="bold" fill="#e02838" text-anchor="start" stroke="#e02838" stroke-width="0.2" transform="translate(160.5,268.8) rotate(-23.5)" textLength="59.5" lengthAdjust="spacingAndGlyphs">dual barrier</text>
<text x="0" y="0" font-family='"Liberation Sans", sans-serif' font-size="11" font-weight="bold" fill="#e02838" text-anchor="start" stroke="#e02838" stroke-width="0.2" transform="translate(170.5,278.7) rotate(-24)" textLength="50.5" lengthAdjust="spacingAndGlyphs">This work</text>
<path d="M128,266.8 L146.4,274.4 M146.4,274.4 L140.5,275.6 M146.4,274.4 L142.6,269.8" stroke="#3a7ac8" stroke-width="1.4" fill="none"/>
<path d="M185.3,286.2 L206.8,276.5 M206.8,276.5 L203,281.2 M206.8,276.5 L200.8,276" stroke="#e83030" stroke-width="1.4" fill="none"/>
<rect x="54.0" y="208.1" width="164.8" height="142.50000000000003" fill="none" stroke="#111" stroke-width="1.5"/>
<line x1="54.0" y1="350.6" x2="57.0" y2="350.6" stroke="#111" stroke-width="1.1"/>
<line x1="54.0" y1="338.73" x2="55.8" y2="338.73" stroke="#111" stroke-width="1.1"/>
<line x1="54.0" y1="326.85" x2="57.0" y2="326.85" stroke="#111" stroke-width="1.1"/>
<line x1="54.0" y1="314.98" x2="55.8" y2="314.98" stroke="#111" stroke-width="1.1"/>
<line x1="54.0" y1="303.1" x2="57.0" y2="303.1" stroke="#111" stroke-width="1.1"/>
<line x1="54.0" y1="291.23" x2="55.8" y2="291.23" stroke="#111" stroke-width="1.1"/>
<line x1="54.0" y1="279.35" x2="57.0" y2="279.35" stroke="#111" stroke-width="1.1"/>
<line x1="54.0" y1="267.48" x2="55.8" y2="267.48" stroke="#111" stroke-width="1.1"/>
<line x1="54.0" y1="255.6" x2="57.0" y2="255.6" stroke="#111" stroke-width="1.1"/>
<line x1="54.0" y1="243.73" x2="55.8" y2="243.73" stroke="#111" stroke-width="1.1"/>
<line x1="54.0" y1="231.85" x2="57.0" y2="231.85" stroke="#111" stroke-width="1.1"/>
<line x1="54.0" y1="219.97" x2="55.8" y2="219.97" stroke="#111" stroke-width="1.1"/>
<line x1="54.0" y1="208.1" x2="57.0" y2="208.1" stroke="#111" stroke-width="1.1"/>
<text x="51.6" y="353.5" font-family='"Liberation Sans", sans-serif' font-size="9.4" font-weight="bold" fill="#111" text-anchor="end" >0.0</text>
<text x="51.6" y="329.75" font-family='"Liberation Sans", sans-serif' font-size="9.4" font-weight="bold" fill="#111" text-anchor="end" >0.5</text>
<text x="51.6" y="306" font-family='"Liberation Sans", sans-serif' font-size="9.4" font-weight="bold" fill="#111" text-anchor="end" >1.0</text>
<text x="51.6" y="282.25" font-family='"Liberation Sans", sans-serif' font-size="9.4" font-weight="bold" fill="#111" text-anchor="end" >1.5</text>
<text x="51.6" y="258.5" font-family='"Liberation Sans", sans-serif' font-size="9.4" font-weight="bold" fill="#111" text-anchor="end" >2.0</text>
<text x="51.6" y="234.75" font-family='"Liberation Sans", sans-serif' font-size="9.4" font-weight="bold" fill="#111" text-anchor="end" >2.5</text>
<text x="51.6" y="211" font-family='"Liberation Sans", sans-serif' font-size="9.4" font-weight="bold" fill="#111" text-anchor="end" >3.0</text>
<text x="0" y="0" font-family='"Liberation Sans", sans-serif' font-size="15" font-weight="bold" fill="#111" text-anchor="start" font-style="italic" stroke="#111" stroke-width="0.2" transform="translate(31,348.5) rotate(-90)" textLength="13.3" lengthAdjust="spacingAndGlyphs">m</text>
<text x="0" y="0" font-family='"Liberation Sans", sans-serif' font-size="9" font-weight="bold" fill="#111" text-anchor="start" stroke="#111" stroke-width="0.2" transform="translate(24.5,336) rotate(-90)">*</text>
<text x="0" y="0" font-family='"Liberation Sans", sans-serif' font-size="8.4" font-weight="bold" fill="#111" text-anchor="start" stroke="#111" stroke-width="0.12" transform="translate(34.3,332.2) rotate(-90)" textLength="32.4" lengthAdjust="spacingAndGlyphs">(with ΔE)</text>
<text x="0" y="0" font-family='"Liberation Sans", sans-serif' font-size="17" font-weight="bold" fill="#111" text-anchor="start" font-style="italic" stroke="#111" stroke-width="0.2" transform="translate(32,290.5) rotate(-90)">/</text>
<text x="0" y="0" font-family='"Liberation Sans", sans-serif' font-size="15" font-weight="bold" fill="#111" text-anchor="start" font-style="italic" stroke="#111" stroke-width="0.2" transform="translate(32.5,284) rotate(-90)" textLength="13.8" lengthAdjust="spacingAndGlyphs">m</text>
<text x="0" y="0" font-family='"Liberation Sans", sans-serif' font-size="9" font-weight="bold" fill="#111" text-anchor="start" stroke="#111" stroke-width="0.2" transform="translate(25.5,270.5) rotate(-90)">*</text>
<text x="0" y="0" font-family='"Liberation Sans", sans-serif' font-size="8.4" font-weight="bold" fill="#111" text-anchor="start" stroke="#111" stroke-width="0.12" transform="translate(35,265.2) rotate(-90)" textLength="53.4" lengthAdjust="spacingAndGlyphs">(without ΔE)</text>
<text x="-0.4" y="203.9" font-family='"Liberation Serif", serif' font-size="23" font-weight="bold" fill="#000" text-anchor="start" >d</text>
<defs>
<linearGradient id="gR" x1="0" y1="0" x2="1" y2="0"><stop offset="0" stop-color="#ef6e78"/><stop offset="0.45" stop-color="#f7c4c8"/><stop offset="0.55" stop-color="#f4b4ba"/><stop offset="1" stop-color="#ee6a74"/></linearGradient>
<linearGradient id="gB" x1="0" y1="0" x2="1" y2="0"><stop offset="0" stop-color="#6ccff6"/><stop offset="0.45" stop-color="#c4f2ff"/><stop offset="0.55" stop-color="#b4ecfc"/><stop offset="1" stop-color="#68ccf4"/></linearGradient>
</defs>
<rect x="276.2" y="206.5" width="164.90000000000003" height="141.89999999999998" fill="#fff"/>
<rect x="278.8" y="248.1" width="22" height="67.8" fill="url(#gR)"/>
<rect x="278.8" y="315.9" width="22" height="32.5" fill="url(#gB)"/>
<rect x="306.3" y="242.6" width="22" height="70.2" fill="url(#gR)"/>
<rect x="306.3" y="312.8" width="22" height="35.6" fill="url(#gB)"/>
<rect x="333.8" y="237.7" width="22" height="74.3" fill="url(#gR)"/>
<rect x="333.8" y="312.0" width="22" height="36.4" fill="url(#gB)"/>
<rect x="361.3" y="232.9" width="22" height="77.9" fill="url(#gR)"/>
<rect x="361.3" y="310.8" width="22" height="37.6" fill="url(#gB)"/>
<rect x="388.8" y="239.9" width="22" height="73" fill="url(#gR)"/>
<rect x="388.8" y="312.9" width="22" height="35.5" fill="url(#gB)"/>
<rect x="416.3" y="245.2" width="22" height="70.4" fill="url(#gR)"/>
<rect x="416.3" y="315.6" width="22" height="32.8" fill="url(#gB)"/>
<line x1="277.2" y1="248.3" x2="440.1" y2="248.3" stroke="#e0304a" stroke-width="1.1" stroke-dasharray="1.1,1.5"/>
<line x1="277.2" y1="315.7" x2="440.1" y2="315.7" stroke="#2020e0" stroke-width="1.2" stroke-dasharray="1.2,1.5"/>
<rect x="282.2" y="214" width="14.8" height="6.7" fill="url(#gR)"/>
<text x="300.7" y="220.3" font-family='"Liberation Sans", sans-serif' font-size="10.2" font-weight="bold" fill="#d83030" text-anchor="start" stroke="#d83030" stroke-width="0.2" textLength="26.7" lengthAdjust="spacingAndGlyphs">873 K</text>
<rect x="353" y="214" width="15" height="6.7" fill="url(#gB)"/>
<text x="372.2" y="220.3" font-family='"Liberation Sans", sans-serif' font-size="10.2" font-weight="bold" fill="#50a8ec" text-anchor="start" stroke="#50a8ec" stroke-width="0.2" textLength="25.7" lengthAdjust="spacingAndGlyphs">300 K</text>
<polygon points="318.88,237.56 337.26,231.74 338.12,234.46 344.2,226.5 334.65,223.49 335.51,226.21 317.12,232.04" fill="#e04424" stroke="#902010" stroke-width="0.6"/>
<polygon points="320.83,305.27 339.49,299.5 340.32,302.17 346.5,294.4 337.01,291.47 337.84,294.15 319.17,299.93" fill="#4a8ed0" stroke="#2a5a90" stroke-width="0.6"/>
<rect x="276.2" y="206.5" width="164.90000000000003" height="141.89999999999998" fill="none" stroke="#111" stroke-width="1.65"/>
<text x="289.8" y="358.5" font-family='"Liberation Sans", sans-serif' font-size="10.4" font-weight="bold" fill="#111" text-anchor="middle" stroke="#111" stroke-width="0.2" >0</text>
<text x="317.3" y="358.5" font-family='"Liberation Sans", sans-serif' font-size="10.4" font-weight="bold" fill="#111" text-anchor="middle" stroke="#111" stroke-width="0.2" >0.8</text>
<text x="344.8" y="358.5" font-family='"Liberation Sans", sans-serif' font-size="10.4" font-weight="bold" fill="#111" text-anchor="middle" stroke="#111" stroke-width="0.2" >1.6</text>
<text x="372.3" y="358.5" font-family='"Liberation Sans", sans-serif' font-size="10.4" font-weight="bold" fill="#111" text-anchor="middle" stroke="#111" stroke-width="0.2" >3.2</text>
<text x="399.8" y="358.5" font-family='"Liberation Sans", sans-serif' font-size="10.4" font-weight="bold" fill="#111" text-anchor="middle" stroke="#111" stroke-width="0.2" >4.8</text>
<text x="427.3" y="358.5" font-family='"Liberation Sans", sans-serif' font-size="10.4" font-weight="bold" fill="#111" text-anchor="middle" stroke="#111" stroke-width="0.2" >6.4</text>
<text x="281.8" y="371.2" font-family='"Liberation Sans", sans-serif' font-size="13.8" font-weight="bold" fill="#111" text-anchor="start" textLength="149" lengthAdjust="spacingAndGlyphs" stroke="#111" stroke-width="0.25">Thickness of ALD-coated</text>
<text x="313.2" y="388.7" font-family='"Liberation Sans", sans-serif' font-size="13.8" font-weight="bold" fill="#111" text-anchor="start" textLength="90.3" lengthAdjust="spacingAndGlyphs" stroke="#111" stroke-width="0.25">TiO<tspan font-size="9" dy="3">2</tspan><tspan dy="-3"> layer (nm)</tspan></text>
<text x="0" y="0" font-family='"Liberation Sans", sans-serif' font-size="13" font-weight="bold" fill="#111" text-anchor="start" stroke="#111" stroke-width="0.2" transform="translate(269.3,327.6) rotate(-90)" textLength="101.8" lengthAdjust="spacingAndGlyphs"><tspan font-style="italic">PF</tspan>  (μWcm<tspan font-size="8" dy="-4.5">-1</tspan><tspan dy="4.5">K</tspan><tspan font-size="8" dy="-4.5">-2</tspan><tspan dy="4.5">)</tspan></text>
<text x="225" y="204" font-family='"Liberation Serif", serif' font-size="23" font-weight="bold" fill="#000" text-anchor="start" >e</text>
<rect x="484.1" y="206.3" width="164.79999999999995" height="142.5" fill="url(#bgF)"/>
<polyline points="495,261.43 512.6,285.32 530.2,293.69 565.4,308.81 600.6,319.39 635.8,327.25" fill="none" stroke="#f0388c" stroke-width="1.6"/>
<polyline points="495,236.17 512.6,233.04 530.2,240.91 565.4,240.82 600.6,246.32 635.8,265.37" fill="none" stroke="#2222e6" stroke-width="1.6"/>
<path d="M495,252.03 V270.83 M492.7,252.03 H497.3 M492.7,270.83 H497.3" stroke="#f0388c" stroke-width="1.3" fill="none"/>
<circle cx="495" cy="261.43" r="3.4" fill="#f8f040" stroke="#f0388c" stroke-width="1.5"/>
<path d="M512.6,275.92 V294.72 M510.3,275.92 H514.9 M510.3,294.72 H514.9" stroke="#f0388c" stroke-width="1.3" fill="none"/>
<circle cx="512.6" cy="285.32" r="3.4" fill="#f8f040" stroke="#f0388c" stroke-width="1.5"/>
<path d="M530.2,284.29 V303.09 M527.9,284.29 H532.5 M527.9,303.09 H532.5" stroke="#f0388c" stroke-width="1.3" fill="none"/>
<circle cx="530.2" cy="293.69" r="3.4" fill="#f8f040" stroke="#f0388c" stroke-width="1.5"/>
<path d="M565.4,299.41 V318.21 M563.1,299.41 H567.7 M563.1,318.21 H567.7" stroke="#f0388c" stroke-width="1.3" fill="none"/>
<circle cx="565.4" cy="308.81" r="3.4" fill="#f8f040" stroke="#f0388c" stroke-width="1.5"/>
<path d="M600.6,309.99 V328.79 M598.3,309.99 H602.9 M598.3,328.79 H602.9" stroke="#f0388c" stroke-width="1.3" fill="none"/>
<circle cx="600.6" cy="319.39" r="3.4" fill="#f8f040" stroke="#f0388c" stroke-width="1.5"/>
<path d="M635.8,317.85 V336.65 M633.5,317.85 H638.1 M633.5,336.65 H638.1" stroke="#f0388c" stroke-width="1.3" fill="none"/>
<circle cx="635.8" cy="327.25" r="3.4" fill="#f8f040" stroke="#f0388c" stroke-width="1.5"/>
<path d="M495,226.27 V246.07 M492.7,226.27 H497.3 M492.7,246.07 H497.3" stroke="#2222e6" stroke-width="1.3" fill="none"/>
<rect x="492.2" y="233.37" width="5.6" height="5.6" fill="#38e838" stroke="#2222e6" stroke-width="1.5"/>
<path d="M512.6,223.14 V242.94 M510.3,223.14 H514.9 M510.3,242.94 H514.9" stroke="#2222e6" stroke-width="1.3" fill="none"/>
<rect x="509.8" y="230.24" width="5.6" height="5.6" fill="#38e838" stroke="#2222e6" stroke-width="1.5"/>
<path d="M530.2,231.01 V250.81 M527.9,231.01 H532.5 M527.9,250.81 H532.5" stroke="#2222e6" stroke-width="1.3" fill="none"/>
<rect x="527.4" y="238.11" width="5.6" height="5.6" fill="#38e838" stroke="#2222e6" stroke-width="1.5"/>
<path d="M565.4,230.92 V250.72 M563.1,230.92 H567.7 M563.1,250.72 H567.7" stroke="#2222e6" stroke-width="1.3" fill="none"/>
<rect x="562.6" y="238.02" width="5.6" height="5.6" fill="#38e838" stroke="#2222e6" stroke-width="1.5"/>
<path d="M600.6,236.42 V256.22 M598.3,236.42 H602.9 M598.3,256.22 H602.9" stroke="#2222e6" stroke-width="1.3" fill="none"/>
<rect x="597.8" y="243.52" width="5.6" height="5.6" fill="#38e838" stroke="#2222e6" stroke-width="1.5"/>
<path d="M635.8,255.47 V275.27 M633.5,255.47 H638.1 M633.5,275.27 H638.1" stroke="#2222e6" stroke-width="1.3" fill="none"/>
<rect x="633" y="262.57" width="5.6" height="5.6" fill="#38e838" stroke="#2222e6" stroke-width="1.5"/>
<text x="490.6" y="219.6" font-family='"Liberation Sans", sans-serif' font-size="12" font-weight="bold" fill="#111" text-anchor="start" stroke="#111" stroke-width="0.2" textLength="30" lengthAdjust="spacingAndGlyphs">300K</text>
<text x="543.1" y="224.3" font-family='"Liberation Sans", sans-serif' font-size="9.6" font-weight="bold" fill="#2222e6" text-anchor="start" stroke="#2222e6" stroke-width="0.2" textLength="94.2" lengthAdjust="spacingAndGlyphs"><tspan font-style="italic" font-weight="normal">μ</tspan><tspan font-size="6.8" dy="3">H,300K</tspan><tspan dy="-3"> = 32cm</tspan><tspan font-size="6.8" dy="-4">2</tspan><tspan dy="4">V</tspan><tspan font-size="6.8" dy="-4">-1</tspan><tspan dy="4">s</tspan><tspan font-size="6.8" dy="-4">-1</tspan></text>
<text x="494.7" y="339.4" font-family='"Liberation Sans", sans-serif' font-size="9.8" font-weight="bold" fill="#f0388c" text-anchor="start" stroke="#f0388c" stroke-width="0.2" textLength="87.4" lengthAdjust="spacingAndGlyphs"><tspan font-style="italic" font-weight="normal">κ</tspan><tspan font-size="6.8" dy="2.7">L,300K</tspan><tspan dy="-2.7" font-weight="normal"> ≈ </tspan><tspan>4 Wm</tspan><tspan font-size="6.8" dy="-4">-1</tspan><tspan dy="4">K</tspan><tspan font-size="6.8" dy="-4">-1</tspan></text>
<line x1="484.1" y1="206.3" x2="484.1" y2="349.6" stroke="#f0388c" stroke-width="1.6"/>
<line x1="484.1" y1="348.8" x2="648.9" y2="348.8" stroke="#f0388c" stroke-width="1.6"/>
<line x1="483.3" y1="206.3" x2="648.9" y2="206.3" stroke="#2222e6" stroke-width="1.5"/>
<line x1="648.9" y1="205.55" x2="648.9" y2="349.6" stroke="#2222e6" stroke-width="1.6"/>
<line x1="484.1" y1="348.12" x2="485.90000000000003" y2="348.12" stroke="#f0388c" stroke-width="1.1"/>
<line x1="484.1" y1="327.96" x2="487.1" y2="327.96" stroke="#f0388c" stroke-width="1.1"/>
<line x1="484.1" y1="307.8" x2="485.90000000000003" y2="307.8" stroke="#f0388c" stroke-width="1.1"/>
<line x1="484.1" y1="287.64" x2="487.1" y2="287.64" stroke="#f0388c" stroke-width="1.1"/>
<line x1="484.1" y1="267.48" x2="485.90000000000003" y2="267.48" stroke="#f0388c" stroke-width="1.1"/>
<line x1="484.1" y1="247.32" x2="487.1" y2="247.32" stroke="#f0388c" stroke-width="1.1"/>
<line x1="484.1" y1="227.16" x2="485.90000000000003" y2="227.16" stroke="#f0388c" stroke-width="1.1"/>
<text x="481.4" y="330.46" font-family='"Liberation Sans", sans-serif' font-size="10.4" font-weight="bold" fill="#f0388c" text-anchor="end" stroke="#f0388c" stroke-width="0.2" >4.0</text>
<text x="481.4" y="290.14" font-family='"Liberation Sans", sans-serif' font-size="10.4" font-weight="bold" fill="#f0388c" text-anchor="end" stroke="#f0388c" stroke-width="0.2" >4.4</text>
<text x="481.4" y="249.82" font-family='"Liberation Sans", sans-serif' font-size="10.4" font-weight="bold" fill="#f0388c" text-anchor="end" stroke="#f0388c" stroke-width="0.2" >4.8</text>
<text x="481.4" y="209.5" font-family='"Liberation Sans", sans-serif' font-size="10.4" font-weight="bold" fill="#f0388c" text-anchor="end" stroke="#f0388c" stroke-width="0.2" >5.2</text>
<line x1="648.9" y1="339.22" x2="647.1" y2="339.22" stroke="#2222e6" stroke-width="1.1"/>
<line x1="648.9" y1="329.74" x2="645.9" y2="329.74" stroke="#2222e6" stroke-width="1.1"/>
<line x1="648.9" y1="320.26" x2="647.1" y2="320.26" stroke="#2222e6" stroke-width="1.1"/>
<line x1="648.9" y1="310.78" x2="645.9" y2="310.78" stroke="#2222e6" stroke-width="1.1"/>
<line x1="648.9" y1="301.3" x2="647.1" y2="301.3" stroke="#2222e6" stroke-width="1.1"/>
<line x1="648.9" y1="291.82" x2="645.9" y2="291.82" stroke="#2222e6" stroke-width="1.1"/>
<line x1="648.9" y1="282.34" x2="647.1" y2="282.34" stroke="#2222e6" stroke-width="1.1"/>
<line x1="648.9" y1="272.86" x2="645.9" y2="272.86" stroke="#2222e6" stroke-width="1.1"/>
<line x1="648.9" y1="263.38" x2="647.1" y2="263.38" stroke="#2222e6" stroke-width="1.1"/>
<line x1="648.9" y1="253.9" x2="645.9" y2="253.9" stroke="#2222e6" stroke-width="1.1"/>
<line x1="648.9" y1="244.42" x2="647.1" y2="244.42" stroke="#2222e6" stroke-width="1.1"/>
<line x1="648.9" y1="234.94" x2="645.9" y2="234.94" stroke="#2222e6" stroke-width="1.1"/>
<line x1="648.9" y1="225.46" x2="647.1" y2="225.46" stroke="#2222e6" stroke-width="1.1"/>
<line x1="648.9" y1="215.98" x2="645.9" y2="215.98" stroke="#2222e6" stroke-width="1.1"/>
<text x="652.4" y="351.5" font-family='"Liberation Sans", sans-serif' font-size="10.4" font-weight="bold" fill="#2222e6" text-anchor="start" stroke="#2222e6" stroke-width="0.2" >20</text>
<text x="652.4" y="332.54" font-family='"Liberation Sans", sans-serif' font-size="10.4" font-weight="bold" fill="#2222e6" text-anchor="start" stroke="#2222e6" stroke-width="0.2" >22</text>
<text x="652.4" y="313.58" font-family='"Liberation Sans", sans-serif' font-size="10.4" font-weight="bold" fill="#2222e6" text-anchor="start" stroke="#2222e6" stroke-width="0.2" >24</text>
<text x="652.4" y="294.62" font-family='"Liberation Sans", sans-serif' font-size="10.4" font-weight="bold" fill="#2222e6" text-anchor="start" stroke="#2222e6" stroke-width="0.2" >26</text>
<text x="652.4" y="275.66" font-family='"Liberation Sans", sans-serif' font-size="10.4" font-weight="bold" fill="#2222e6" text-anchor="start" stroke="#2222e6" stroke-width="0.2" >28</text>
<text x="652.4" y="256.7" font-family='"Liberation Sans", sans-serif' font-size="10.4" font-weight="bold" fill="#2222e6" text-anchor="start" stroke="#2222e6" stroke-width="0.2" >30</text>
<text x="652.4" y="237.74" font-family='"Liberation Sans", sans-serif' font-size="10.4" font-weight="bold" fill="#2222e6" text-anchor="start" stroke="#2222e6" stroke-width="0.2" >32</text>
<text x="652.4" y="218.78" font-family='"Liberation Sans", sans-serif' font-size="10.4" font-weight="bold" fill="#2222e6" text-anchor="start" stroke="#2222e6" stroke-width="0.2" >34</text>
<line x1="495" y1="348.8" x2="495" y2="345.40000000000003" stroke="#f0388c" stroke-width="1.4"/>
<line x1="506" y1="348.8" x2="506" y2="346.6" stroke="#f0388c" stroke-width="1.4"/>
<line x1="517" y1="348.8" x2="517" y2="345.40000000000003" stroke="#f0388c" stroke-width="1.4"/>
<line x1="528" y1="348.8" x2="528" y2="346.6" stroke="#f0388c" stroke-width="1.4"/>
<line x1="539" y1="348.8" x2="539" y2="345.40000000000003" stroke="#f0388c" stroke-width="1.4"/>
<line x1="550" y1="348.8" x2="550" y2="346.6" stroke="#f0388c" stroke-width="1.4"/>
<line x1="561" y1="348.8" x2="561" y2="345.40000000000003" stroke="#f0388c" stroke-width="1.4"/>
<line x1="572" y1="348.8" x2="572" y2="346.6" stroke="#f0388c" stroke-width="1.4"/>
<line x1="583" y1="348.8" x2="583" y2="345.40000000000003" stroke="#f0388c" stroke-width="1.4"/>
<line x1="594" y1="348.8" x2="594" y2="346.6" stroke="#f0388c" stroke-width="1.4"/>
<line x1="605" y1="348.8" x2="605" y2="345.40000000000003" stroke="#f0388c" stroke-width="1.4"/>
<line x1="616" y1="348.8" x2="616" y2="346.6" stroke="#f0388c" stroke-width="1.4"/>
<line x1="627" y1="348.8" x2="627" y2="345.40000000000003" stroke="#f0388c" stroke-width="1.4"/>
<line x1="638" y1="348.8" x2="638" y2="346.6" stroke="#f0388c" stroke-width="1.4"/>
<text x="495.3" y="359.1" font-family='"Liberation Sans", sans-serif' font-size="10.4" font-weight="bold" fill="#f0388c" text-anchor="middle" stroke="#f0388c" stroke-width="0.2" >0</text>
<text x="517.3" y="359.1" font-family='"Liberation Sans", sans-serif' font-size="10.4" font-weight="bold" fill="#f0388c" text-anchor="middle" stroke="#f0388c" stroke-width="0.2" >1</text>
<text x="539.3" y="359.1" font-family='"Liberation Sans", sans-serif' font-size="10.4" font-weight="bold" fill="#f0388c" text-anchor="middle" stroke="#f0388c" stroke-width="0.2" >2</text>
<text x="561.3" y="359.1" font-family='"Liberation Sans", sans-serif' font-size="10.4" font-weight="bold" fill="#f0388c" text-anchor="middle" stroke="#f0388c" stroke-width="0.2" >3</text>
<text x="583.3" y="359.1" font-family='"Liberation Sans", sans-serif' font-size="10.4" font-weight="bold" fill="#f0388c" text-anchor="middle" stroke="#f0388c" stroke-width="0.2" >4</text>
<text x="605.3" y="359.1" font-family='"Liberation Sans", sans-serif' font-size="10.4" font-weight="bold" fill="#f0388c" text-anchor="middle" stroke="#f0388c" stroke-width="0.2" >5</text>
<text x="627.3" y="359.1" font-family='"Liberation Sans", sans-serif' font-size="10.4" font-weight="bold" fill="#f0388c" text-anchor="middle" stroke="#f0388c" stroke-width="0.2" >6</text>
<text x="649.3" y="359.1" font-family='"Liberation Sans", sans-serif' font-size="10.4" font-weight="bold" fill="#f0388c" text-anchor="middle" stroke="#f0388c" stroke-width="0.2" >7</text>
<text x="494.5" y="371.2" font-family='"Liberation Sans", sans-serif' font-size="13.8" font-weight="bold" fill="#111" text-anchor="start" textLength="149.7" lengthAdjust="spacingAndGlyphs" stroke="#111" stroke-width="0.25">Thickness of ALD-coated</text>
<text x="526" y="388.7" font-family='"Liberation Sans", sans-serif' font-size="13.8" font-weight="bold" fill="#111" text-anchor="start" textLength="90.3" lengthAdjust="spacingAndGlyphs" stroke="#111" stroke-width="0.25">TiO<tspan font-size="9" dy="3">2</tspan><tspan dy="-3"> layer (nm)</tspan></text>
<text x="0" y="0" font-family='"Liberation Sans", sans-serif' font-size="13" font-weight="bold" fill="#f0388c" text-anchor="start" stroke="#f0388c" stroke-width="0.2" transform="translate(461,317.6) rotate(-90)" textLength="81.2" lengthAdjust="spacingAndGlyphs"><tspan font-style="italic" font-weight="normal" font-family='"Liberation Serif", serif'>κ</tspan><tspan font-size="8.5" dy="3">L</tspan><tspan dy="-3"> (Wm</tspan><tspan font-size="8" dy="-4.5">-1</tspan><tspan dy="4.5">K</tspan><tspan font-size="8" dy="-4.5">-1</tspan><tspan dy="4.5">)</tspan></text>
<text x="0" y="0" font-family='"Liberation Sans", sans-serif' font-size="13" font-weight="bold" fill="#2222e6" text-anchor="start" stroke="#2222e6" stroke-width="0.2" transform="translate(682.5,333) rotate(-90)" textLength="98" lengthAdjust="spacingAndGlyphs"><tspan font-style="italic">μ</tspan><tspan font-size="8.5" dy="3">H</tspan><tspan dy="-3"> (cm</tspan><tspan font-size="8" dy="-4.5">2</tspan><tspan dy="4.5">V</tspan><tspan font-size="8" dy="-4.5">-1</tspan><tspan dy="4.5">s</tspan><tspan font-size="8" dy="-4.5">-1</tspan><tspan dy="4.5">)</tspan></text>
<text x="450" y="203.9" font-family='"Liberation Serif", serif' font-size="24.5" font-weight="bold" fill="#000" text-anchor="start" >f</text>
</svg>
</body></html>
